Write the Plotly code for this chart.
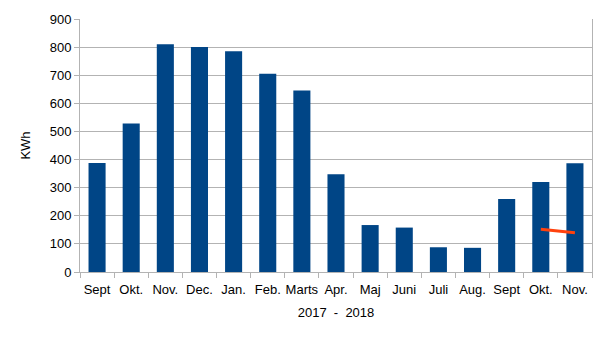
import plotly.graph_objects as go

# Monthly consumption, Sept 2017 – Nov 2018
months = ["Sept", "Okt.", "Nov.", "Dec.", "Jan.", "Feb.", "Marts", "Apr.",
          "Maj", "Juni", "Juli", "Aug.", "Sept", "Okt.", "Nov."]
kwh = [388, 528, 810, 800, 785, 705, 646, 348, 167, 158, 88, 86, 260, 320, 387]

# Short comparison line over the last two months
line_idx = [13, 14]
line_vals = [152, 140]

y_ticks = [0, 100, 200, 300, 400, 500, 600, 700, 800, 900]

positions = list(range(len(months)))
grid = "#b3b3b3"
font = dict(family="Liberation Sans, Arial, sans-serif", size=13, color="#000000")

fig = go.Figure()
fig.add_trace(go.Bar(
    x=positions, y=kwh,
    marker=dict(color="#004586", line=dict(width=0)),
    hoverinfo="x+y",
))
fig.add_trace(go.Scatter(
    x=line_idx, y=line_vals, mode="lines",
    line=dict(color="#ff420e", width=3),
))

fig.update_layout(
    width=605, height=340,
    margin=dict(l=80, r=13, t=14, b=68),
    paper_bgcolor="white", plot_bgcolor="white",
    showlegend=False,
    bargap=0.5,
    font=font,
    xaxis=dict(
        range=[-0.5, len(months) - 0.5],
        tickmode="array", tickvals=positions, ticktext=months,
        ticks="", showgrid=False, zeroline=False,
        ticklabelstandoff=5,
        showline=True, linecolor=grid, linewidth=1,
        minor=dict(tickmode="array",
                   tickvals=[i - 0.5 for i in range(len(months) + 1)],
                   ticks="outside", ticklen=5, tickcolor=grid, showgrid=False),
        title=dict(text="2017  -  2018", standoff=12, font=font),
        tickfont=font,
    ),
    yaxis=dict(
        range=[0, 900],
        tickmode="array", tickvals=y_ticks,
        showgrid=True, gridcolor=grid, gridwidth=1,
        zeroline=False,
        showline=True, linecolor=grid, linewidth=1, mirror=True,
        ticks="outside", ticklen=5, tickcolor=grid,
        title=dict(text="KWh", standoff=16, font=font),
        tickfont=font,
    ),
)

fig.write_html("out.html")
